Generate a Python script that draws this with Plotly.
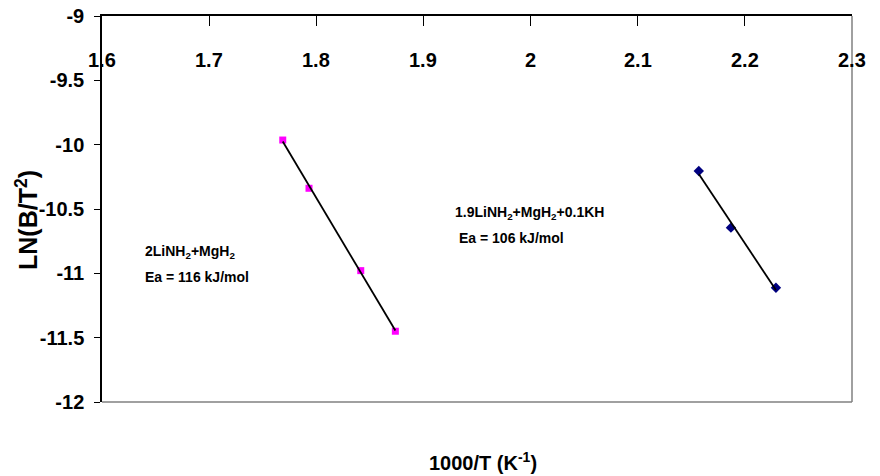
import numpy as np
import plotly.graph_objects as go

# Data
x_2li = [1.7687, 1.7932, 1.8415, 1.8738]
y_2li = [-9.964, -10.339, -10.979, -11.450]
x_kh = [2.157, 2.187, 2.229]
y_kh = [-10.205, -10.645, -11.112]

x_ticks = [1.6, 1.7, 1.8, 1.9, 2.0, 2.1, 2.2, 2.3]
x_tick_labels = ["1.6", "1.7", "1.8", "1.9", "2", "2.1", "2.2", "2.3"]
y_ticks = [-12, -11.5, -11, -10.5, -10, -9.5, -9]
y_tick_labels = ["-12", "-11.5", "-11", "-10.5", "-10", "-9.5", "-9"]

FONT = "Liberation Sans, Arial, sans-serif"

fig = go.Figure()

fig.add_trace(go.Scatter(x=x_2li, y=y_2li, mode="markers",
                         marker=dict(symbol="square", size=7, color="#FF00FF"),
                         showlegend=False))
fig.add_trace(go.Scatter(x=x_kh, y=y_kh, mode="markers",
                         marker=dict(symbol="diamond", size=8, color="#000080"),
                         showlegend=False))

for xs, ys in [(x_2li, y_2li), (x_kh, y_kh)]:
    k, b = np.polyfit(xs, ys, 1)
    xl = [min(xs), max(xs)]
    fig.add_trace(go.Scatter(x=xl, y=[k * v + b for v in xl], mode="lines",
                             line=dict(color="black", width=1.8),
                             showlegend=False))

annotations = []
for v, t in zip(x_ticks, x_tick_labels):
    annotations.append(dict(x=v, y=-9.342, xref="x", yref="y", text=f"<b>{t}</b>",
                            showarrow=False, xanchor="center", yanchor="middle",
                            font=dict(family=FONT, size=20, color="black")))

ann_font = dict(family=FONT, size=14, color="black")
annotations += [
    dict(x=1.6383, y=-10.834, xref="x", yref="y", text="<b>2LiNH<sub>2</sub>+MgH<sub>2</sub></b>",
         showarrow=False, xanchor="left", yanchor="middle", font=ann_font),
    dict(x=1.6383, y=-11.028, xref="x", yref="y", text="<b>Ea = 116 kJ/mol</b>",
         showarrow=False, xanchor="left", yanchor="middle", font=ann_font),
    dict(x=1.9276, y=-10.531, xref="x", yref="y",
         text="<b>1.9LiNH<sub>2</sub>+MgH<sub>2</sub>+0.1KH</b>",
         showarrow=False, xanchor="left", yanchor="middle", font=ann_font),
    dict(x=1.9313, y=-10.725, xref="x", yref="y", text="<b>Ea = 106 kJ/mol</b>",
         showarrow=False, xanchor="left", yanchor="middle", font=ann_font),
    dict(x=-0.1, y=0.4715, xref="paper", yref="paper", text="<b>LN(B/T<sup>2</sup>)</b>",
         textangle=-90, showarrow=False, xanchor="center", yanchor="middle",
         font=dict(family=FONT, size=25, color="black")),
    dict(x=0.508, y=-0.155, xref="paper", yref="paper", text="<b>1000/T (K<sup>-1</sup>)</b>",
         showarrow=False, xanchor="center", yanchor="middle",
         font=dict(family=FONT, size=20, color="black")),
]

fig.update_layout(
    width=880, height=476,
    margin=dict(l=102, r=28, t=16, b=74, autoexpand=False),
    paper_bgcolor="white", plot_bgcolor="white",
    font=dict(family=FONT, color="black"),
    annotations=annotations,
    shapes=[
        dict(type="line", xref="paper", yref="paper", x0=0, x1=1, y0=0, y1=0,
             line=dict(color="#808080", width=1.5)),
        dict(type="line", xref="paper", yref="paper", x0=1, x1=1, y0=0, y1=1,
             line=dict(color="#808080", width=1.5)),
    ],
    xaxis=dict(range=[1.6, 2.3], side="top", showgrid=False, zeroline=False,
               showline=True, linecolor="black", linewidth=1.5, automargin=False,
               ticks="inside", ticklen=10, tickcolor="black", tickwidth=1,
               tickvals=x_ticks, showticklabels=False),
    yaxis=dict(range=[-12, -9], showgrid=False, zeroline=False, automargin=False,
               showline=True, linecolor="black", linewidth=1.5,
               ticks="outside", ticklen=6, tickcolor="black", tickwidth=1,
               tickvals=y_ticks, ticktext=[f"<b>{t}</b>" for t in y_tick_labels],
               ticklabeloverflow="allow", ticklabelstandoff=6,
               tickfont=dict(family=FONT, size=20, color="black")),
)

fig.write_html("out.html",
               config={"displayModeBar": False},
               post_script="document.body.style.margin='0';document.body.style.overflow='hidden';")
